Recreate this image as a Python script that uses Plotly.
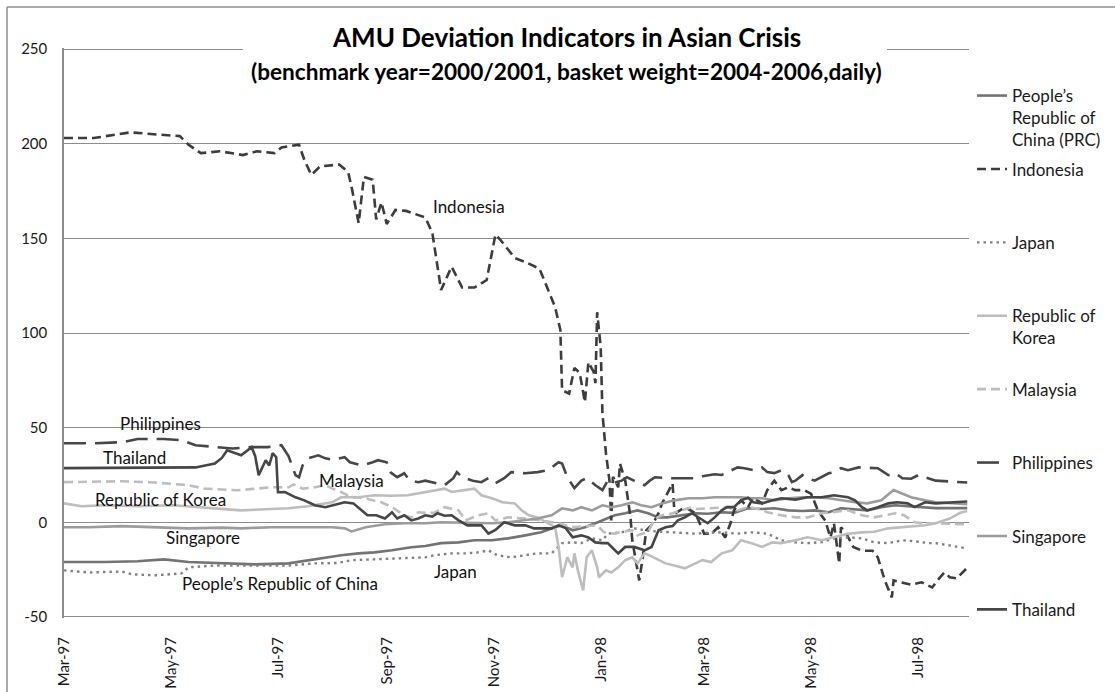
import plotly.graph_objects as go

# ---------------- data ----------------
series_names = [
    "People’s<br>Republic of<br>China (PRC)", "Indonesia", "Japan", "Republic of<br>Korea",
    "Malaysia", "Philippines", "Singapore", "Thailand",
]

prc_dates = ["1997-03-03", "1997-03-26", "1997-04-14", "1997-04-29", "1997-05-13", "1997-06-01", "1997-06-20",
             "1997-07-09", "1997-07-20", "1997-08-03", "1997-08-08", "1997-08-18", "1997-08-27", "1997-09-06",
             "1997-09-17", "1997-09-25", "1997-10-04", "1997-10-14", "1997-10-23", "1997-11-02", "1997-11-11",
             "1997-11-21", "1997-11-30", "1997-12-08", "1997-12-12", "1997-12-18", "1997-12-25", "1997-12-31",
             "1998-01-04", "1998-01-11", "1998-01-17", "1998-01-24", "1998-01-30", "1998-02-05", "1998-02-10",
             "1998-02-18", "1998-02-26", "1998-03-05", "1998-03-13", "1998-03-20", "1998-03-28", "1998-04-05",
             "1998-04-12", "1998-04-20", "1998-04-28", "1998-05-05", "1998-05-13", "1998-05-20", "1998-05-28",
             "1998-06-04", "1998-06-12", "1998-06-20", "1998-06-27", "1998-07-05", "1998-07-13", "1998-07-31"]
prc_values = [-21, -21, -20.6, -19.6, -21, -21.7, -22.2,
              -21.7, -20, -18, -17.4, -16.4, -15.9, -14.8,
              -13.2, -12.5, -11, -10.6, -9.5, -9.5, -8.5,
              -6.9, -5.3, -2.6, -1.6, -4.2, -2.6, -0.5,
              1, 3.7, 4.8, 6.3, 4.8, 2.6, 2.6,
              3.7, 4.8, 4.5, 5.3, 5, 7.4, 7,
              7.4, 6.3, 6, 6.3, 5.3, 7.4, 6.8,
              6.3, 8, 9, 8.5, 8, 7.5, 7.5]

idn_dates = ["1997-03-03", "1997-03-20", "1997-04-03", "1997-04-10", "1997-04-23", "1997-05-08", "1997-05-13",
             "1997-05-20", "1997-05-31", "1997-06-13", "1997-06-21", "1997-07-01", "1997-07-05", "1997-07-15",
             "1997-07-18", "1997-07-22", "1997-07-27", "1997-08-07", "1997-08-12", "1997-08-14", "1997-08-18",
             "1997-08-21", "1997-08-26", "1997-08-28", "1997-08-31", "1997-09-03", "1997-09-08", "1997-09-14",
             "1997-09-25", "1997-09-29", "1997-10-04", "1997-10-10", "1997-10-16", "1997-10-23", "1997-10-30",
             "1997-11-04", "1997-11-07", "1997-11-15", "1997-11-21", "1997-11-29", "1997-11-30", "1997-12-08",
             "1997-12-11", "1997-12-12", "1997-12-16", "1997-12-19", "1997-12-22", "1997-12-25", "1997-12-27",
             "1997-12-30", "1997-12-31", "1998-01-01", "1998-01-03", "1998-01-04", "1998-01-06", "1998-01-08",
             "1998-01-09", "1998-01-10", "1998-01-13", "1998-01-14", "1998-01-17", "1998-01-20", "1998-01-21",
             "1998-01-24", "1998-01-25", "1998-01-27", "1998-01-29", "1998-02-02", "1998-02-05", "1998-02-07",
             "1998-02-10", "1998-02-13", "1998-02-14", "1998-02-15", "1998-02-20", "1998-02-26", "1998-03-03",
             "1998-03-07", "1998-03-11", "1998-03-15", "1998-03-18", "1998-03-20", "1998-03-24", "1998-03-28",
             "1998-03-31", "1998-04-05", "1998-04-08", "1998-04-12", "1998-04-16", "1998-04-20", "1998-04-24",
             "1998-04-29", "1998-05-03", "1998-05-07", "1998-05-11", "1998-05-14", "1998-05-16", "1998-05-19",
             "1998-05-20", "1998-05-23", "1998-05-27", "1998-06-01", "1998-06-07", "1998-06-10", "1998-06-14",
             "1998-06-18", "1998-06-19", "1998-06-24", "1998-06-29", "1998-07-05", "1998-07-11", "1998-07-15",
             "1998-07-18", "1998-07-21", "1998-07-25", "1998-07-31"]
idn_values = [203, 203, 205, 206, 205, 204, 199.5,
              195, 196, 194, 196, 195, 198, 199.5,
              191.5, 183.5, 188, 189, 185, 177, 158,
              182.5, 181, 160, 169, 157.6, 165, 164.5,
              161, 153, 122.7, 135, 124, 124, 128,
              152, 149, 139.6, 137.5, 134, 132, 113.7,
              101.6, 69.8, 68, 81.5, 79, 63.5, 84.6,
              79.4, 73.5, 111, 92.6, 57.7, 36.5, 22,
              1, 24, 18.5, 31, 22, 2.6, -9.5,
              -27, -30.7, -18.5, -4.2, -0.5, 4.8, 10,
              15, 20.6, 6, 5, 8, 4.8, -6,
              -6, -2.6, -8, -0.5, 6.3, 11.6, 8,
              13, 10, 17, 22, 17, 18.5, 17,
              17, 15, 6, 1, -8, -0.5, -21.7,
              -2.6, -6, -13, -15, -15, -18.5, -30.7,
              -39.7, -30.7, -31.7, -33, -31.7, -34.4, -29.6,
              -26.5, -29, -29.6, -24]

jpn_dates = ["1997-03-03", "1997-03-17", "1997-04-05", "1997-04-11", "1997-04-24", "1997-05-09", "1997-05-13",
             "1997-05-28", "1997-06-20", "1997-07-09", "1997-07-24", "1997-08-06", "1997-08-14", "1997-08-27",
             "1997-09-06", "1997-09-17", "1997-09-25", "1997-09-30", "1997-10-10", "1997-10-18", "1997-10-25",
             "1997-10-31", "1997-11-05", "1997-11-13", "1997-11-21", "1997-11-28", "1997-12-06", "1997-12-12",
             "1997-12-18", "1997-12-23", "1997-12-29", "1998-01-04", "1998-01-07", "1998-01-15", "1998-01-22",
             "1998-01-30", "1998-02-07", "1998-02-16", "1998-02-26", "1998-03-05", "1998-03-13", "1998-03-22",
             "1998-03-30", "1998-04-08", "1998-04-16", "1998-04-24", "1998-05-01", "1998-05-09", "1998-05-16",
             "1998-05-24", "1998-06-01", "1998-06-08", "1998-06-16", "1998-06-24", "1998-07-01", "1998-07-09",
             "1998-07-13", "1998-07-31"]
jpn_values = [-25.4, -26.5, -26, -27.5, -28, -27, -23.8,
              -22.8, -22.8, -22.8, -21.7, -21.5, -20, -19.6,
              -19, -19, -18.5, -17.4, -16.4, -16.4, -15.9,
              -14.8, -17.4, -18.5, -17.4, -16.4, -16.4, -11,
              -10.6, -11, -8.5, -9.5, -6, -5.3, -3.2,
              -4.5, -5, -5.3, -6, -5.5, -5.3, -6,
              -5.3, -6, -9.5, -10.6, -11, -10.5, -8.5,
              -7.9, -8.5, -10.6, -11, -9.5, -10, -11,
              -11, -13.8]

kor_dates = ["1997-03-03", "1997-03-13", "1997-03-26", "1997-04-14", "1997-05-04", "1997-05-17", "1997-06-01",
             "1997-06-12", "1997-06-26", "1997-07-09", "1997-07-20", "1997-08-03", "1997-08-08", "1997-08-18",
             "1997-08-27", "1997-09-06", "1997-09-15", "1997-09-25", "1997-10-02", "1997-10-06", "1997-10-10",
             "1997-10-18", "1997-10-23", "1997-10-27", "1997-11-02", "1997-11-08", "1997-11-15", "1997-11-19",
             "1997-11-23", "1997-11-28", "1997-12-04", "1997-12-08", "1997-12-10", "1997-12-12", "1997-12-15",
             "1997-12-18", "1997-12-19", "1997-12-21", "1997-12-24", "1997-12-26", "1997-12-29", "1998-01-01",
             "1998-01-02", "1998-01-06", "1998-01-09", "1998-01-13", "1998-01-17", "1998-01-21", "1998-01-24",
             "1998-01-28", "1998-02-01", "1998-02-05", "1998-02-09", "1998-02-14", "1998-02-20", "1998-02-26",
             "1998-03-02", "1998-03-07", "1998-03-13", "1998-03-19", "1998-03-24", "1998-03-30", "1998-04-05",
             "1998-04-11", "1998-04-16", "1998-04-24", "1998-05-01", "1998-05-09", "1998-05-16", "1998-05-24",
             "1998-06-01", "1998-06-08", "1998-06-16", "1998-06-24", "1998-07-01", "1998-07-07", "1998-07-13",
             "1998-07-21", "1998-07-27", "1998-07-31"]
kor_values = [10, 8.5, 9, 8.5, 9, 8, 6.9,
              6.3, 6.9, 7.4, 8.5, 10.6, 13.2, 13.2,
              14.3, 14, 14.3, 16, 17, 17.8, 16,
              17, 17.8, 14.3, 12.7, 10.6, 10, 6.3,
              3.7, 2.6, -0.5, -2.6, -13, -29, -18.5,
              -23.8, -16.4, -25.4, -36, -18.5, -14.8, -23.8,
              -29, -25.4, -26.5, -23.8, -20, -18.5, -21.7,
              -16.4, -18, -20, -21.7, -22.8, -24.3, -21.7,
              -20, -21, -16.4, -14.8, -9.5, -11, -13,
              -10.6, -11, -9.5, -7.9, -9.5, -7.9, -6,
              -5.3, -5, -3.2, -2.6, -2, -1.6, -0.5,
              2, 5, 6]

mys_dates = ["1997-03-03", "1997-04-05", "1997-04-24", "1997-05-13", "1997-05-22", "1997-06-10", "1997-06-29",
             "1997-07-09", "1997-07-12", "1997-07-17", "1997-07-24", "1997-07-30", "1997-08-03", "1997-08-08",
             "1997-08-14", "1997-08-20", "1997-08-26", "1997-08-31", "1997-09-06", "1997-09-09", "1997-09-13",
             "1997-09-17", "1997-09-21", "1997-09-25", "1997-09-30", "1997-10-06", "1997-10-10", "1997-10-14",
             "1997-10-18", "1997-10-25", "1997-10-31", "1997-11-04", "1997-11-11", "1997-11-21", "1997-11-30",
             "1997-12-10", "1997-12-18", "1997-12-25", "1998-01-01", "1998-01-05", "1998-01-11", "1998-01-15",
             "1998-01-21", "1998-01-24", "1998-01-30", "1998-02-03", "1998-02-07", "1998-02-13", "1998-02-18",
             "1998-02-24", "1998-02-27", "1998-03-05", "1998-03-11", "1998-03-16", "1998-03-22", "1998-03-28",
             "1998-04-03", "1998-04-08", "1998-04-16", "1998-04-24", "1998-05-01", "1998-05-09", "1998-05-16",
             "1998-05-24", "1998-06-01", "1998-06-08", "1998-06-14", "1998-06-20", "1998-06-25", "1998-07-01",
             "1998-07-07", "1998-07-13", "1998-07-31"]
mys_values = [21.2, 21.7, 21, 19.6, 17.8, 16.9, 18.5,
              18.5, 20, 17.8, 18.5, 19.6, 17.8, 16,
              13.2, 13, 11.6, 10.6, 8, 6.3, 3.7,
              2.6, 5.3, 5, 5, 8, 7, 6.3,
              1, 3.7, 4.8, 1, 2.6, 2, 1,
              -0.5, -2.6, -2, -1.6, -5.3, -6, -5,
              -4.2, -6.9, -5, 2, 3.7, 4.8, 6.3,
              8, 7, 7.4, 7.4, 8, 6.3, 8,
              7, 5.3, 3.7, 2.6, 2.6, 4.8, 5.5,
              6.3, 3.7, 2.6, 3.7, 4.8, 3.7, 0,
              -0.5, -0.5, -1]

phl_dates = ["1997-03-03", "1997-03-21", "1997-04-05", "1997-04-14", "1997-04-29", "1997-05-09", "1997-05-17",
             "1997-05-28", "1997-06-07", "1997-06-18", "1997-06-27", "1997-07-05", "1997-07-09", "1997-07-13",
             "1997-07-15", "1997-07-17", "1997-07-20", "1997-07-26", "1997-07-30", "1997-08-03", "1997-08-10",
             "1997-08-13", "1997-08-20", "1997-08-26", "1997-08-29", "1997-09-03", "1997-09-05", "1997-09-09",
             "1997-09-13", "1997-09-16", "1997-09-21", "1997-09-25", "1997-09-30", "1997-10-06", "1997-10-11",
             "1997-10-13", "1997-10-16", "1997-10-22", "1997-10-27", "1997-10-31", "1997-11-04", "1997-11-09",
             "1997-11-13", "1997-11-21", "1997-11-28", "1997-12-04", "1997-12-10", "1997-12-12", "1997-12-15",
             "1997-12-19", "1997-12-23", "1997-12-26", "1997-12-31", "1998-01-04", "1998-01-07", "1998-01-11",
             "1998-01-15", "1998-01-18", "1998-01-22", "1998-01-28", "1998-01-31", "1998-02-03", "1998-02-10",
             "1998-02-18", "1998-02-26", "1998-03-02", "1998-03-09", "1998-03-13", "1998-03-19", "1998-03-22",
             "1998-03-26", "1998-03-31", "1998-04-05", "1998-04-08", "1998-04-12", "1998-04-16", "1998-04-20",
             "1998-04-22", "1998-04-24", "1998-04-28", "1998-05-01", "1998-05-05", "1998-05-13", "1998-05-16",
             "1998-05-20", "1998-05-24", "1998-05-30", "1998-06-04", "1998-06-10", "1998-06-16", "1998-06-20",
             "1998-06-24", "1998-06-29", "1998-07-03", "1998-07-07", "1998-07-13", "1998-07-31"]
phl_values = [41.8, 41.8, 42.3, 44, 44, 43.4, 40.7,
              39.7, 39, 39.7, 39.7, 40.7, 35, 24.9,
              23.8, 30, 33.8, 35.4, 33.8, 33, 34.4,
              31.7, 30, 31.7, 32.8, 31.7, 26.5, 23.8,
              25.9, 22.2, 21.2, 22, 21, 19.6, 23.3,
              26.5, 23.8, 22, 21.2, 23.3, 20.6, 23.3,
              26.5, 25.9, 26.5, 27.5, 31.7, 31, 23.8,
              18, 22, 23.3, 19.6, 17, 22, 21,
              22, 23.8, 22, 19.6, 22, 23.8, 23.3,
              23.3, 23.3, 24.3, 25.4, 25, 27.5, 29,
              28.6, 27.5, 29, 26.5, 26, 27.5, 24.9,
              21.2, 22, 24.9, 23.3, 22, 25.9, 26.5,
              28.6, 27.5, 29, 29, 28.6, 24.9, 25.9,
              23.3, 23, 24.9, 23.8, 22, 21]

sgp_dates = ["1997-03-03", "1997-03-17", "1997-04-05", "1997-04-24", "1997-05-13", "1997-06-01", "1997-06-12",
             "1997-06-29", "1997-07-18", "1997-08-03", "1997-08-10", "1997-08-14", "1997-08-22", "1997-09-02",
             "1997-09-13", "1997-09-25", "1997-10-04", "1997-10-14", "1997-10-23", "1997-11-02", "1997-11-11",
             "1997-11-21", "1997-11-28", "1997-12-06", "1997-12-12", "1997-12-18", "1997-12-23", "1997-12-29",
             "1998-01-04", "1998-01-09", "1998-01-15", "1998-01-21", "1998-01-26", "1998-02-01", "1998-02-07",
             "1998-02-14", "1998-02-22", "1998-03-02", "1998-03-09", "1998-03-16", "1998-03-24", "1998-03-30",
             "1998-04-05", "1998-04-12", "1998-04-20", "1998-04-28", "1998-05-05", "1998-05-13", "1998-05-20",
             "1998-05-28", "1998-06-04", "1998-06-12", "1998-06-19", "1998-06-24", "1998-06-29", "1998-07-07",
             "1998-07-13", "1998-07-31"]
sgp_values = [-2.6, -2.6, -2, -2.6, -3.2, -2.8, -3.2,
              -2.6, -2.8, -2.6, -3.2, -4.8, -2.6, -1,
              -0.5, -0.5, 0, -0.3, -0.3, -0.5, 0,
              1, 2, 3.7, 7.4, 6.3, 8, 6.3,
              9, 8, 9, 10.6, 9, 8, 10,
              11.6, 12.7, 12.7, 13.2, 13.2, 13.2, 12.7,
              12.7, 11.6, 12.7, 13.2, 13.2, 12.7, 11.6,
              10.6, 10, 11.6, 17, 15.3, 13.2, 11.6,
              10.6, 9.5]

tha_dates = ["1997-03-03", "1997-05-13", "1997-05-17", "1997-05-28", "1997-06-01", "1997-06-04", "1997-06-12",
             "1997-06-18", "1997-06-20", "1997-06-22", "1997-06-26", "1997-06-28", "1997-06-30", "1997-07-02",
             "1997-07-03", "1997-07-07", "1997-07-13", "1997-07-18", "1997-07-24", "1997-07-30", "1997-08-04",
             "1997-08-10", "1997-08-15", "1997-08-20", "1997-08-23", "1997-08-28", "1997-09-02", "1997-09-06",
             "1997-09-09", "1997-09-13", "1997-09-17", "1997-09-21", "1997-09-25", "1997-09-29", "1997-10-02",
             "1997-10-06", "1997-10-10", "1997-10-14", "1997-10-19", "1997-10-27", "1997-10-31", "1997-11-04",
             "1997-11-09", "1997-11-15", "1997-11-21", "1997-11-26", "1997-11-30", "1997-12-06", "1997-12-10",
             "1997-12-14", "1997-12-18", "1997-12-23", "1997-12-27", "1997-12-31", "1998-01-04", "1998-01-07",
             "1998-01-13", "1998-01-17", "1998-01-22", "1998-01-28", "1998-02-01", "1998-02-05", "1998-02-09",
             "1998-02-13", "1998-02-16", "1998-02-20", "1998-02-24", "1998-02-27", "1998-03-05", "1998-03-09",
             "1998-03-13", "1998-03-16", "1998-03-20", "1998-03-24", "1998-03-28", "1998-03-31", "1998-04-05",
             "1998-04-11", "1998-04-16", "1998-04-24", "1998-05-01", "1998-05-09", "1998-05-16", "1998-05-24",
             "1998-05-28", "1998-06-01", "1998-06-04", "1998-06-10", "1998-06-16", "1998-06-21", "1998-06-27",
             "1998-07-01", "1998-07-07", "1998-07-13", "1998-07-31"]
tha_values = [28.6, 28.6, 29, 31, 34, 38, 35.4,
              39.7, 35, 24.9, 32.8, 30, 36.5, 34.4,
              15.9, 16, 13.2, 11.6, 9, 8, 9,
              10.6, 10, 6.3, 3.7, 3.7, 2, 5.3,
              2, 3.7, 1, 2, 3.7, 3, 4.8,
              3.5, 3.7, 1, -1.6, -1.6, -6, -4,
              0, -1.6, -1.6, -3.2, -3.2, -3.2, -1.6,
              -3, -7.9, -6.9, -8, -10.6, -11, -11,
              -16.4, -13, -13, -14.8, -13, -4.2, -2.6,
              -2, 1, 2.6, 4.8, 3, -0.5, 2.6,
              6.3, 8, 8, 11.6, 13, 10.6, 10,
              11.6, 12.7, 12, 13.2, 13.2, 14.3, 13.2,
              11.6, 8, 6.3, 8, 10, 10.6, 10,
              8, 10.6, 10, 11]

tick_dates = ["1997-03-03", "1997-05-03", "1997-07-03", "1997-09-03", "1997-11-03",
              "1998-01-03", "1998-03-03", "1998-05-03", "1998-07-03"]
y_ticks = [-50, 0, 50, 100, 150, 200, 250]
y_tick_labels = ["-50", "0", "50", "100", "150", "200", "250"]

label_texts = ["Philippines", "Thailand", "Republic of Korea", "Singapore",
               "People’s Republic of China", "Malaysia", "Japan", "Indonesia"]
label_dates = ["1997-04-27", "1997-04-12", "1997-04-27", "1997-05-21",
               "1997-07-04", "1997-08-14", "1997-10-12", "1997-10-20"]
label_values = [52.4, 34.4, 12.2, -7.9, -32.3, 22.2, -25.9, 166.6]

title_line1 = "AMU Deviation Indicators in Asian Crisis"
title_line2 = "(benchmark year=2000/2001, basket weight=2004-2006,daily)"

# ---------------- styling ----------------
FONT = "Lato, 'Open Sans', sans-serif"
all_dates = [prc_dates, idn_dates, jpn_dates, kor_dates, mys_dates, phl_dates, sgp_dates, tha_dates]
all_values = [prc_values, idn_values, jpn_values, kor_values, mys_values, phl_values, sgp_values, tha_values]
line_styles = [
    dict(color="#737373", width=2.6, dash="solid"),
    dict(color="#3c3c3c", width=2.6, dash="9px,5px"),
    dict(color="#808080", width=2.4, dash="2.5px,4px"),
    dict(color="#bdbdbd", width=2.6, dash="solid"),
    dict(color="#bdbdbd", width=2.6, dash="9px,5px"),
    dict(color="#474747", width=2.6, dash="22px,9px"),
    dict(color="#9c9c9c", width=2.6, dash="solid"),
    dict(color="#464646", width=2.6, dash="solid"),
]

# plot area in pixels
L, R, T, B = 64, 969, 48, 618
W, H = 1115, 692
Y_RANGE = [-50.55, 250.55]


def px_x(p):
    return (p - L) / (R - L)


def px_y(p):
    return (B - p) / (B - T)


fig = go.Figure()
legend_ids = ["legend"] + [f"legend{i}" for i in range(2, 9)]
for i in range(8):
    fig.add_trace(go.Scatter(
        x=all_dates[i], y=all_values[i], mode="lines", name=series_names[i],
        line=line_styles[i], legend=legend_ids[i], hoverinfo="skip",
    ))

legend_layouts = {}
for i, lid in enumerate(legend_ids):
    center = 92 + 73.4 * i
    legend_layouts[lid] = dict(
        x=px_x(972), xanchor="left", y=px_y(center - 14), yanchor="top",
        valign="top", bgcolor="rgba(0,0,0,0)", borderwidth=0,
        font=dict(family=FONT, size=17, color="#1a1a1a"),
        itemclick=False, itemdoubleclick=False,
    )

annotations = []
for t, d, v in zip(label_texts, label_dates, label_values):
    annotations.append(dict(x=d, y=v, xref="x", yref="y", text=t, showarrow=False,
                            xanchor="center", yanchor="middle",
                            font=dict(family=FONT, size=17, color="#111111")))
annotations.append(dict(x=px_x(566), y=px_y(37), xref="paper", yref="paper",
                        text=f"<b>{title_line1}</b>", showarrow=False,
                        xanchor="center", yanchor="middle",
                        font=dict(family=FONT, size=26, color="#000000")))
annotations.append(dict(x=px_x(566), y=px_y(71), xref="paper", yref="paper",
                        text=f"<b>{title_line2}</b>", showarrow=False,
                        xanchor="center", yanchor="middle",
                        font=dict(family=FONT, size=22.6, color="#000000")))

border = dict(color="#8c8c8c", width=1.5)
shapes = [
    # outer chart border (top and left edges; the others lie outside the picture)
    dict(type="line", xref="paper", yref="paper", x0=px_x(7), x1=px_x(1115),
         y0=px_y(7), y1=px_y(7), line=border, layer="below"),
    dict(type="line", xref="paper", yref="paper", x0=px_x(7), x1=px_x(7),
         y0=px_y(7), y1=px_y(692), line=border, layer="below"),
    # white box behind the title
    dict(type="rect", xref="paper", yref="paper", x0=px_x(243), x1=px_x(887),
         y0=px_y(86), y1=px_y(20), line=dict(width=0), fillcolor="white", layer="above"),
]

fig.update_layout(
    width=W, height=H, autosize=False,
    margin=dict(l=L, r=W - R, t=T, b=H - B, pad=0, autoexpand=False),
    paper_bgcolor="white", plot_bgcolor="white",
    font=dict(family=FONT, size=15, color="#1a1a1a"),
    showlegend=True,
    annotations=annotations, shapes=shapes,
    **legend_layouts,
)
fig.update_xaxes(
    type="date", range=["1997-03-03", "1998-08-01"],
    tickvals=tick_dates, tickformat="%b-%y", tickangle=-90,
    showgrid=False, showline=False, zeroline=False, ticks="",
    ticklabelstandoff=15, automargin=False,
    tickfont=dict(family=FONT, size=15, color="#1a1a1a"),
)
fig.update_yaxes(
    range=Y_RANGE, tickvals=y_ticks, ticktext=y_tick_labels,
    showgrid=True, gridcolor="#8c8c8c", gridwidth=1,
    zeroline=False, showline=True, linecolor="#8c8c8c", linewidth=1.5,
    ticks="", ticklabelstandoff=12, automargin=False,
    tickfont=dict(family=FONT, size=15, color="#1a1a1a"),
)

# remove the browser's default 8px page margin so the figure sits at the page origin
fig.write_html("out.html", config={"displayModeBar": False},
               post_script="document.body.style.margin='0';")
